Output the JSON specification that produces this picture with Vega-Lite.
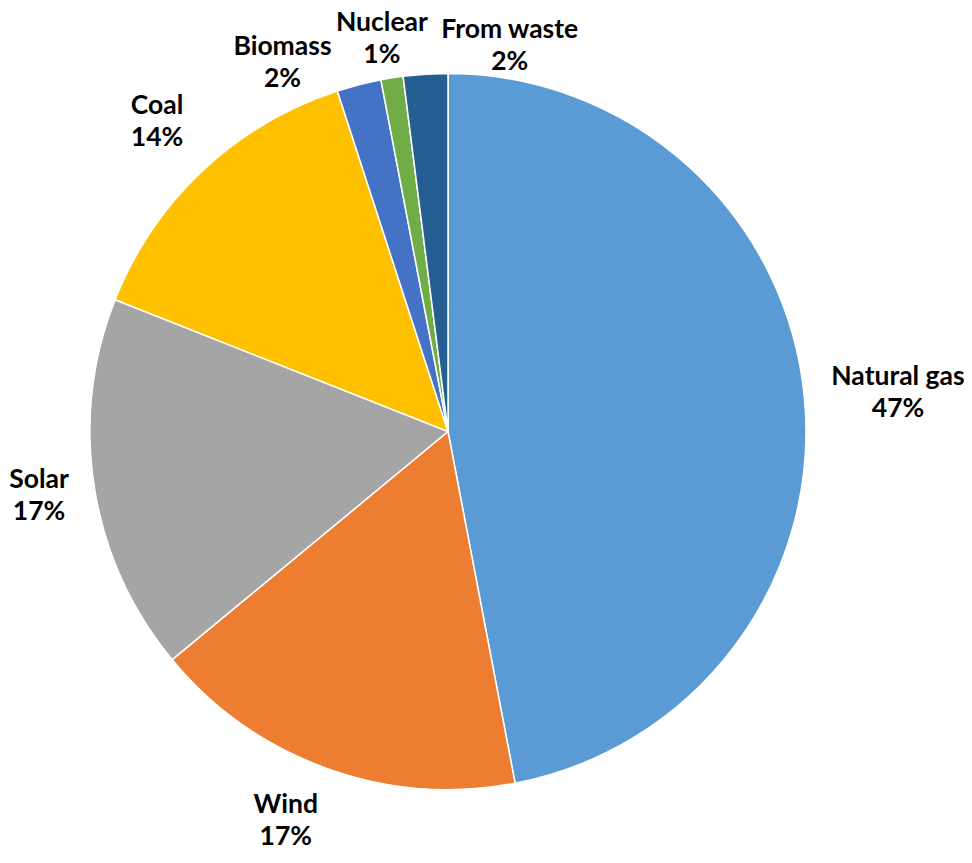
{
  "$schema": "https://vega.github.io/schema/vega-lite/v6.json",
  "width": 896,
  "height": 863,
  "autosize": {"type": "none"},
  "padding": {"left": 0, "top": 0, "right": 76, "bottom": 0},
  "background": "white",
  "config": {"view": {"stroke": null}},
  "data": {
    "values": [
      {"source": "Natural gas", "share": 47, "order": 1},
      {"source": "Wind", "share": 17, "order": 2},
      {"source": "Solar", "share": 17, "order": 3},
      {"source": "Coal", "share": 14, "order": 4},
      {"source": "Biomass", "share": 2, "order": 5},
      {"source": "Nuclear", "share": 1, "order": 6},
      {"source": "From waste", "share": 2, "order": 7}
    ]
  },
  "transform": [
    {"calculate": "datum.source + '\\n' + datum.share + '%'", "as": "label"}
  ],
  "encoding": {
    "theta": {"field": "share", "type": "quantitative", "stack": true},
    "order": {"field": "order", "type": "quantitative", "sort": "ascending"}
  },
  "layer": [
    {
      "mark": {"type": "arc", "outerRadius": 358, "stroke": "white", "strokeWidth": 1.5},
      "encoding": {
        "color": {
          "field": "source",
          "type": "nominal",
          "scale": {
            "domain": ["Natural gas", "Wind", "Solar", "Coal", "Biomass", "Nuclear", "From waste"],
            "range": ["#5B9BD5", "#ED7D31", "#A5A5A5", "#FFC000", "#4472C4", "#70AD47", "#255E91"]
          },
          "legend": null
        }
      }
    },
    {
      "mark": {"type": "text", "radius": 452, "dy": -12, "font": "Lato", "fontWeight": "bold", "fontSize": 26.5, "lineHeight": 32, "lineBreak": "\n", "align": "center", "baseline": "middle", "color": "black"},
      "encoding": {"text": {"condition": {"test": "datum.source === 'Natural gas'", "field": "label"}, "value": ""}}
    },
    {
      "mark": {"type": "text", "radius": 414, "dx": -22, "dy": -16, "font": "Lato", "fontWeight": "bold", "fontSize": 26.5, "lineHeight": 32, "lineBreak": "\n", "align": "center", "baseline": "middle", "color": "black"},
      "encoding": {"text": {"condition": {"test": "datum.source === 'Wind'", "field": "label"}, "value": ""}}
    },
    {
      "mark": {"type": "text", "radius": 414, "dy": -16, "font": "Lato", "fontWeight": "bold", "fontSize": 26.5, "lineHeight": 32, "lineBreak": "\n", "align": "center", "baseline": "middle", "color": "black"},
      "encoding": {"text": {"condition": {"test": "datum.source === 'Solar'", "field": "label"}, "value": ""}}
    },
    {
      "mark": {"type": "text", "radius": 425, "dy": -16, "font": "Lato", "fontWeight": "bold", "fontSize": 26.5, "lineHeight": 32, "lineBreak": "\n", "align": "center", "baseline": "middle", "color": "black"},
      "encoding": {"text": {"condition": {"test": "datum.source === 'Coal'", "field": "label"}, "value": ""}}
    },
    {
      "mark": {"type": "text", "radius": 380, "dx": -71, "dy": -16, "font": "Lato", "fontWeight": "bold", "fontSize": 26.5, "lineHeight": 32, "lineBreak": "\n", "align": "center", "baseline": "middle", "color": "black"},
      "encoding": {"text": {"condition": {"test": "datum.source === 'Biomass'", "field": "label"}, "value": ""}}
    },
    {
      "mark": {"type": "text", "radius": 397, "dx": -4, "dy": -16, "font": "Lato", "fontWeight": "bold", "fontSize": 26.5, "lineHeight": 32, "lineBreak": "\n", "align": "center", "baseline": "middle", "color": "black"},
      "encoding": {"text": {"condition": {"test": "datum.source === 'Nuclear'", "field": "label"}, "value": ""}}
    },
    {
      "mark": {"type": "text", "radius": 386, "dx": 86, "dy": -16, "font": "Lato", "fontWeight": "bold", "fontSize": 26.5, "lineHeight": 32, "lineBreak": "\n", "align": "center", "baseline": "middle", "color": "black"},
      "encoding": {"text": {"condition": {"test": "datum.source === 'From waste'", "field": "label"}, "value": ""}}
    }
  ]
}
